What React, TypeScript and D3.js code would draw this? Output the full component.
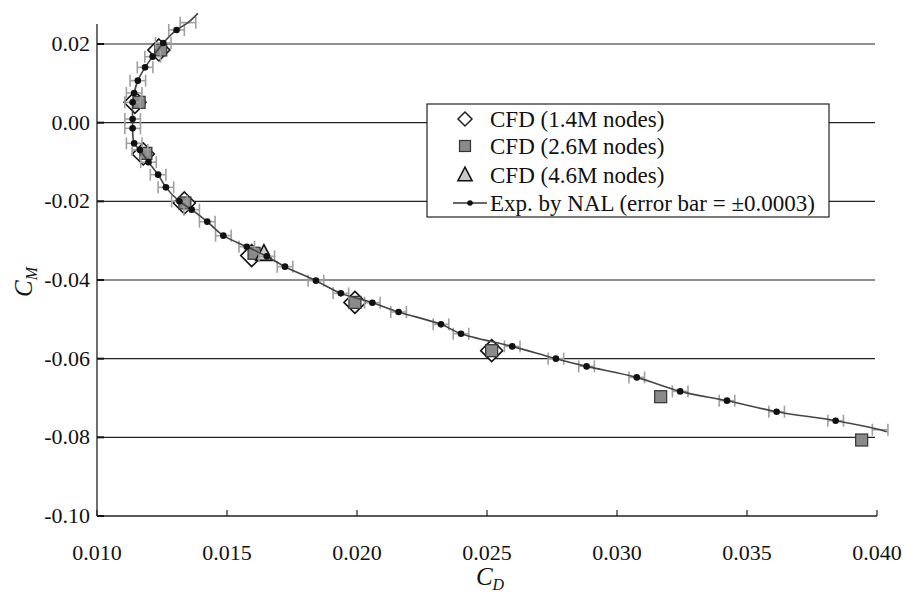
import React from "react";
import * as d3 from "d3";

// Experimental data (NAL) – dotted points
const expCD = [0.01306, 0.01255, 0.01214, 0.01185, 0.01157, 0.01143, 0.01137, 0.01137, 0.01137, 0.01143, 0.01165, 0.01198, 0.01235, 0.01265, 0.01317, 0.01364, 0.01424, 0.01486, 0.01576, 0.01653, 0.01723, 0.01842, 0.01938, 0.02059, 0.0216, 0.02323, 0.024, 0.02597, 0.02765, 0.02883, 0.03076, 0.03243, 0.03423, 0.03614, 0.03841];
const expCM = [0.02357, 0.02026, 0.01678, 0.01406, 0.01068, 0.00755, 0.00516, 0.00094, -0.00145, -0.00526, -0.00694, -0.01004, -0.01322, -0.01645, -0.02001, -0.02212, -0.02517, -0.02873, -0.03153, -0.03399, -0.03661, -0.04017, -0.0434, -0.04577, -0.04813, -0.05128, -0.05365, -0.05688, -0.06, -0.06196, -0.06476, -0.06832, -0.07068, -0.07348, -0.07577];
// points with error bar only (curve ends)
const barOnlyCD = [0.0135, 0.04012];
const barOnlyCM = [0.02543, -0.07806];
// curve extension end points
const curveEndCD = [0.01388, 0.04038];
const curveEndCM = [0.02779, -0.07857];
const errorBar = 0.0003;

// CFD results
const cfd14CD = [0.01238, 0.01146, 0.01178, 0.01336, 0.01595, 0.01992, 0.02518];
const cfd14CM = [0.01848, 0.00517, -0.00796, -0.02042, -0.03380, -0.04569, -0.05797];
const cfd26CD = [0.01245, 0.01162, 0.01188, 0.01338, 0.01604, 0.01992, 0.02518, 0.03168, 0.03941];
const cfd26CM = [0.01848, 0.00517, -0.00780, -0.02042, -0.03320, -0.04569, -0.05797, -0.06967, -0.08068];
const cfd46CD = [0.01642];
const cfd46CM = [-0.03330];

const xTicks = [0.01, 0.015, 0.02, 0.025, 0.03, 0.035, 0.04];
const yTicks = [0.02, 0.0, -0.02, -0.04, -0.06, -0.08, -0.1];

const legendLabels = [
  "CFD (1.4M nodes)",
  "CFD (2.6M nodes)",
  "CFD (4.6M nodes)",
  "Exp. by NAL (error bar = \u00b10.0003)",
];

export default function App() {
  const W = 903, H = 597;
  const x = d3.scaleLinear().domain([0.01, 0.04]).range([97, 877]);
  const y = d3.scaleLinear().domain([-0.1, 0.02]).range([516, 44]);
  const font = "'Liberation Serif', 'DejaVu Serif', serif";

  const curvePts: [number, number][] = [
    [curveEndCD[0], curveEndCM[0]],
    [barOnlyCD[0], barOnlyCM[0]],
    ...expCD.map((c, i) => [c, expCM[i]] as [number, number]),
    [barOnlyCD[1], barOnlyCM[1]],
    [curveEndCD[1], curveEndCM[1]],
  ];
  const line = d3
    .line<[number, number]>()
    .x((d) => x(d[0]))
    .y((d) => y(d[1]))
    .curve(d3.curveCatmullRom.alpha(0.5));

  const barPts: [number, number][] = [
    [barOnlyCD[0], barOnlyCM[0]],
    ...expCD.map((c, i) => [c, expCM[i]] as [number, number]),
    [barOnlyCD[1], barOnlyCM[1]],
  ];

  const diamond = (cx: number, cy: number, r: number) =>
    `M${cx},${cy - r}L${cx + r},${cy}L${cx},${cy + r}L${cx - r},${cy}Z`;
  const tri = (cx: number, cy: number, s: number) =>
    `M${cx},${cy - s * 0.6}L${cx + s * 0.55},${cy + s * 0.45}L${cx - s * 0.55},${cy + s * 0.45}Z`;

  const legX = 427, legY = 104, legW = 402, legH = 113;
  const rowY = [119, 146, 175, 203];
  const symX = 465;
  const textX = 490;

  return (
    <svg width={W} height={H} style={{ display: "block", position: "absolute", left: 0, top: 0, background: "#fff" }}>
      <rect x={0} y={0} width={W} height={H} fill="#fff" />
      {/* gridlines */}
      {yTicks.slice(0, -1).map((t) => (
        <line key={"g" + t} x1={97} x2={875} y1={y(t)} y2={y(t)} stroke="#222" strokeWidth={1.2} />
      ))}
      {/* axes */}
      <line x1={97} x2={97} y1={24} y2={516} stroke="#222" strokeWidth={1.3} />
      <line x1={97} x2={877} y1={516} y2={516} stroke="#222" strokeWidth={1.3} />
      {yTicks.map((t) => (
        <line key={"yt" + t} x1={97} x2={104} y1={y(t)} y2={y(t)} stroke="#111" strokeWidth={2} />
      ))}
      {xTicks.map((t) => (
        <line key={"xt" + t} x1={x(t)} x2={x(t)} y1={516} y2={510} stroke="#222" strokeWidth={1.2} />
      ))}
      {yTicks.map((t) => (
        <text key={"yl" + t} x={90} y={y(t) + 7} textAnchor="end" fontFamily={font} fontSize={22} fill="#111">
          {t === 0 ? "0.00" : d3.format(".2f")(t).replace("−", "-")}
        </text>
      ))}
      {xTicks.map((t) => (
        <text key={"xl" + t} x={x(t)} y={560} textAnchor="middle" fontFamily={font} fontSize={22} fill="#111">
          {d3.format(".3f")(t)}
        </text>
      ))}
      <text x={490} y={585} textAnchor="middle" fontFamily={font} fontSize={25} fontStyle="italic" fill="#111">
        C<tspan fontSize={16} dy={5}>D</tspan>
      </text>
      <text transform="translate(32,282) rotate(-90)" textAnchor="middle" fontFamily={font} fontSize={25} fontStyle="italic" fill="#111">
        C<tspan fontSize={16} dy={5}>M</tspan>
      </text>

      {/* CFD markers */}
      {cfd14CD.map((c, i) => (
        <path key={"d" + i} d={diamond(x(c), y(cfd14CM[i]), 11)} fill="#fff" stroke="#111" strokeWidth={1.6} />
      ))}
      {cfd26CD.map((c, i) => (
        <rect key={"s" + i} x={x(c) - 6} y={y(cfd26CM[i]) - 6} width={12} height={12} fill="#8a8a8a" stroke="#333" strokeWidth={1.2} />
      ))}
      {cfd46CD.map((c, i) => (
        <path key={"t" + i} d={tri(x(c), y(cfd46CM[i]), 15)} fill="#c8c8c8" stroke="#111" strokeWidth={1.6} />
      ))}

      {/* error bars */}
      {barPts.map((p, i) => {
        const cy = y(p[1]);
        const x0 = x(p[0] - errorBar);
        const x1 = x(p[0] + errorBar);
        return (
          <g key={"e" + i} stroke="#a0a0a0" strokeWidth={1.6}>
            <line x1={x0} x2={x1} y1={cy} y2={cy} />
            <line x1={x0} x2={x0} y1={cy - 6} y2={cy + 6} />
            <line x1={x1} x2={x1} y1={cy - 6} y2={cy + 6} />
          </g>
        );
      })}
      {/* curve */}
      <path d={line(curvePts) || ""} fill="none" stroke="#444" strokeWidth={1.6} />
      {expCD.map((c, i) => (
        <circle key={"p" + i} cx={x(c)} cy={y(expCM[i])} r={3.3} fill="#111" />
      ))}

      {/* legend */}
      <rect x={legX} y={legY} width={legW} height={legH} fill="#fff" stroke="#222" strokeWidth={1.2} />
      <path d={diamond(symX, rowY[0], 7)} fill="#fff" stroke="#222" strokeWidth={1.5} />
      <rect x={symX - 5.5} y={rowY[1] - 5.5} width={11} height={11} fill="#8a8a8a" stroke="#333" strokeWidth={1.2} />
      <path d={tri(symX, rowY[2], 13)} fill="#c8c8c8" stroke="#111" strokeWidth={1.5} />
      <line x1={symX - 12} x2={symX + 22} y1={rowY[3]} y2={rowY[3]} stroke="#333" strokeWidth={1.5} />
      <circle cx={symX + 5} cy={rowY[3]} r={2.8} fill="#111" />
      {legendLabels.map((l, i) => (
        <text key={"l" + i} x={textX} y={rowY[i] + 7.5} fontFamily={font} fontSize={23} fill="#111">
          {l}
        </text>
      ))}
    </svg>
  );
}
